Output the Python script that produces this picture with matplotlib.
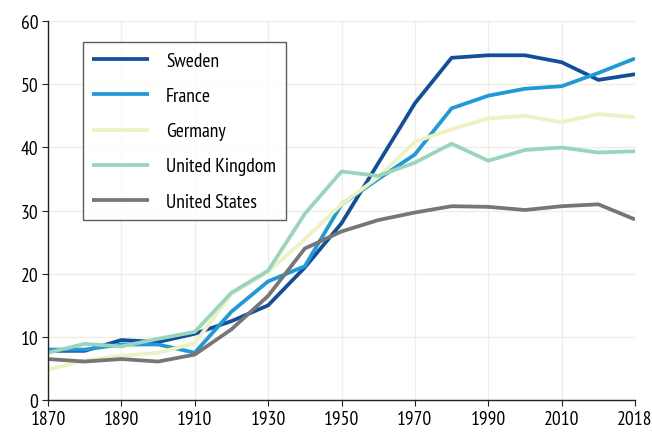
import matplotlib.pyplot as plt
import numpy as np

plt.rcParams['font.family'] = ['PT Sans Narrow', 'DejaVu Sans']

years = ['1870', '1880', '1890', '1900', '1910', '1920', '1930', '1940', '1950',
         '1960', '1970', '1980', '1990', '2000', '2010', '2015', '2018']

sweden = [7.8, 7.8, 9.5, 9.2, 10.5, 12.5, 15.0, 21.0, 28.0, 37.5, 47.0, 54.2,
          54.6, 54.6, 53.5, 50.7, 51.6]
france = [8.0, 8.0, 8.8, 8.8, 7.5, 14.0, 18.8, 21.2, 31.0, 35.0, 38.9, 46.2,
          48.2, 49.3, 49.7, 51.8, 54.1]
germany = [4.8, 6.3, 7.0, 7.5, 9.0, 16.8, 20.3, 25.5, 31.0, 35.3, 40.9, 42.9,
           44.6, 45.0, 44.0, 45.3, 44.8]
uk = [7.5, 8.9, 8.5, 9.7, 10.8, 17.0, 20.5, 29.5, 36.2, 35.5, 37.6, 40.6,
      37.9, 39.6, 40.0, 39.2, 39.4]
us = [6.5, 6.1, 6.5, 6.1, 7.2, 11.2, 16.5, 24.0, 26.7, 28.5, 29.7, 30.7,
      30.6, 30.1, 30.7, 31.0, 28.6]

series = [
    ('Sweden', sweden, '#124e9b'),
    ('France', france, '#1e9ad8'),
    ('Germany', germany, '#edf2c2'),
    ('United Kingdom', uk, '#98d5bc'),
    ('United States', us, '#767676'),
]

fig = plt.figure(figsize=(6.52, 4.35), dpi=100)
ax = fig.add_axes([0.0736, 0.078, 0.9004, 0.871])

x = np.arange(len(years))
for name, vals, color in series:
    ax.plot(x, vals, color=color, lw=2.7, label=name, solid_capstyle='butt')

ax.set_xlim(0, len(years) - 1)
ax.set_ylim(0, 60)
ax.set_xticks(x[::2])
ax.set_xticklabels(years[::2])
ax.set_yticks(np.arange(0, 61, 10))
ax.grid(True, color='#efeee3', lw=1)
ax.set_axisbelow(True)

for s in ['top', 'right']:
    ax.spines[s].set_visible(False)
for s in ['left', 'bottom']:
    ax.spines[s].set_color('#222222')
    ax.spines[s].set_linewidth(1)
ax.tick_params(axis='both', labelsize=14, length=4, color='#222222',
               direction='out', pad=3)

leg = ax.legend(loc='upper left', bbox_to_anchor=(0.059, 0.944), fontsize=14,
                frameon=True, fancybox=False, handlelength=2.9,
                labelspacing=0.88, borderpad=0.5, handletextpad=0.9,
                borderaxespad=0)
leg.get_frame().set_edgecolor('#333333')
leg.get_frame().set_linewidth(1)

fig.savefig('out.png', dpi=100)
